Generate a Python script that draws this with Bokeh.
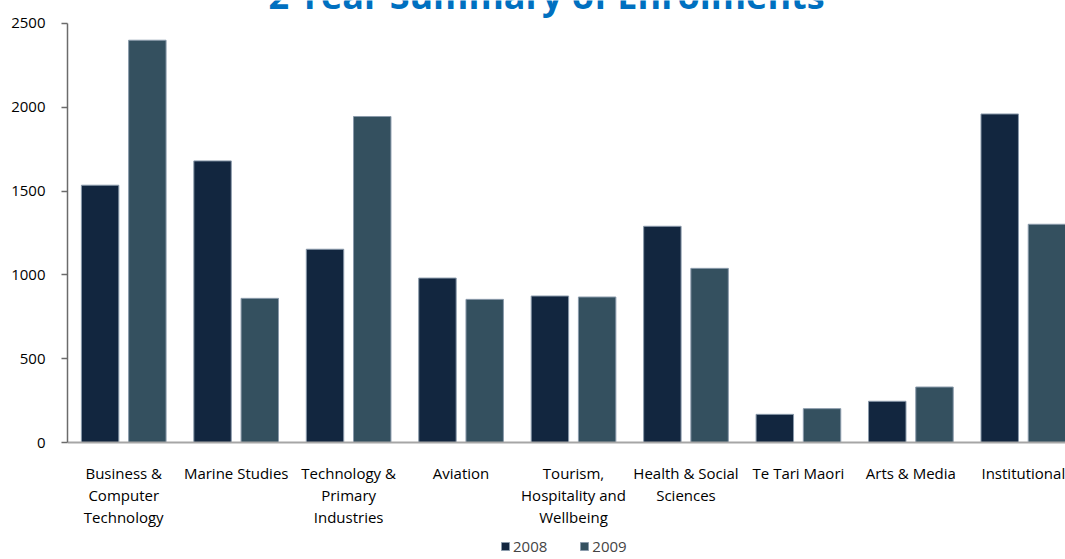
from bokeh.plotting import figure
from bokeh.models import (ColumnDataSource, Range1d, FixedTicker, Label, Legend,
                          LegendItem)
from bokeh.transform import dodge
from bokeh.embed import file_html
from bokeh.resources import INLINE

categories = ["Business &\nComputer\nTechnology", "Marine Studies",
              "Technology &\nPrimary\nIndustries", "Aviation",
              "Tourism,\nHospitality and\nWellbeing", "Health & Social\nSciences",
              "Te Tari Maori", "Arts & Media", "Institutional"]
enrol_2008 = [1535, 1680, 1153, 981, 874, 1290, 168, 246, 1960]
enrol_2009 = [2400, 860, 1945, 854, 868, 1039, 202, 331, 1302]
series_names = ["2008", "2009"]
y_ticks = [0, 500, 1000, 1500, 2000, 2500]
title_text = "2 Year Summary of Enrolments"

FONT = "Open Sans"
C2008 = "#12263f"
C2009 = "#34505f"

idx = list(range(len(categories)))
src = ColumnDataSource(dict(x=idx, y8=enrol_2008, y9=enrol_2009))

p = figure(frame_width=998, frame_height=559, output_backend="svg",
           toolbar_location=None,
           x_range=Range1d(-0.5, 8.375), y_range=Range1d(-698, 2637),
           min_border_left=67, min_border_right=0, min_border_top=0,
           min_border_bottom=0)
p.outline_line_color = None
p.xgrid.visible = False
p.ygrid.visible = False
p.background_fill_color = "white"
p.border_fill_color = "white"

r8 = p.vbar(x=dodge("x", -0.21, range=p.x_range), top="y8", width=0.333,
            source=src, fill_color=C2008, line_color="#8a9aab", line_width=1)
r9 = p.vbar(x=dodge("x", 0.21, range=p.x_range), top="y9", width=0.333,
            source=src, fill_color=C2009, line_color="#8a9aab", line_width=1)

# x axis, drawn at y = 0 inside the frame
p.xaxis.fixed_location = 0
p.xaxis.ticker = FixedTicker(ticks=idx)
p.xaxis.major_label_overrides = {i: c for i, c in zip(idx, categories)}
p.xaxis.major_tick_line_color = None
p.xaxis.minor_tick_line_color = None
p.xaxis.axis_line_color = "#a6a6a6"
p.xaxis.axis_line_width = 2
p.xaxis.major_label_text_font = FONT
p.xaxis.major_label_text_font_size = "15px"
p.xaxis.major_label_text_color = "#000000"
p.xaxis.major_label_standoff = 14
p.xaxis.major_label_text_line_height = 1.1

# y axis
p.yaxis.ticker = FixedTicker(ticks=y_ticks)
p.yaxis.bounds = (0, 2500)
p.yaxis.minor_tick_line_color = None
p.yaxis.axis_line_color = "#6b6b6b"
p.yaxis.axis_line_width = 1.5
p.yaxis.major_tick_line_color = "#6b6b6b"
p.yaxis.major_tick_line_width = 1.5
p.yaxis.major_tick_in = 0
p.yaxis.major_tick_out = 6
p.yaxis.major_label_standoff = 16
p.yaxis.major_label_text_font = FONT
p.yaxis.major_label_text_font_size = "15px"
p.yaxis.major_label_text_color = "#000000"

# title (partly cut off at top)
title = Label(x=3.76, y=2666, text=title_text, text_align="center",
              text_baseline="alphabetic", text_font=FONT,
              text_font_style="bold", text_font_size="36px",
              text_color="#0070c0")
p.add_layout(title)

legend = Legend(items=[LegendItem(label=series_names[0], renderers=[r8]),
                       LegendItem(label=series_names[1], renderers=[r9])],
                location=(433, 3), orientation="horizontal",
                glyph_width=10, glyph_height=10, label_standoff=3,
                spacing=32, padding=0, margin=0, label_height=14,
                label_text_font=FONT, label_text_font_size="15px",
                border_line_color=None, background_fill_alpha=0)
p.add_layout(legend, "center")

open("out.html", "w").write(file_html(p, INLINE))
